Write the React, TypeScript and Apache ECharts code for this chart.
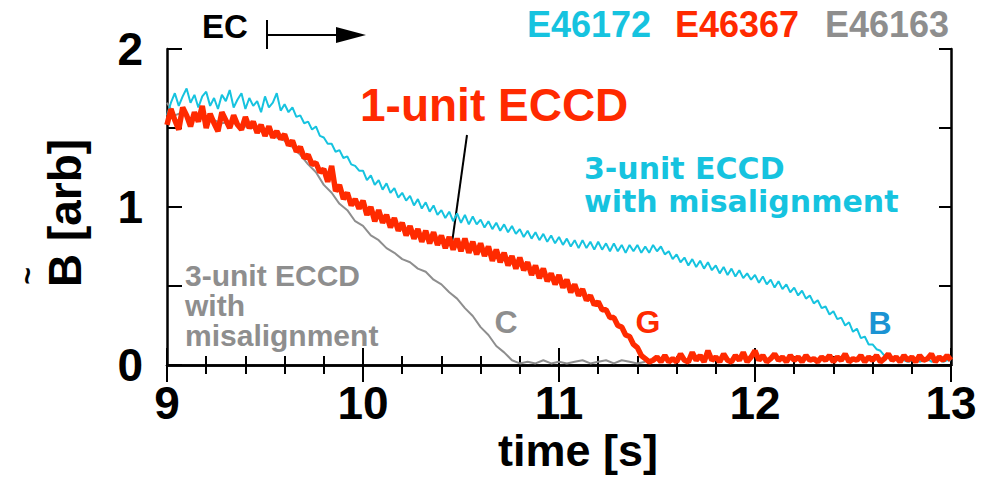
import React, { useEffect, useRef } from "react";
import * as echarts from "echarts";

// time grids
const T_START = 9.0;
const FINE_STEP = 0.02; // cyan and red traces
const COARSE_STEP = 0.04; // gray trace

// E46172 (cyan) - 3-unit ECCD with misalignment, ends at B (every 0.02 s from 9.00 s)
const cyanValues = [
  1.58, 1.66, 1.72, 1.64, 1.70, 1.75, 1.66, 1.71, 1.63, 1.70,
  1.73, 1.64, 1.69, 1.62, 1.71, 1.67, 1.74, 1.63, 1.68, 1.72,
  1.62, 1.69, 1.64, 1.67, 1.60, 1.70, 1.63, 1.66, 1.72, 1.61,
  1.65, 1.60, 1.63, 1.57, 1.58, 1.53, 1.54, 1.49, 1.51, 1.45,
  1.44, 1.40, 1.40, 1.35, 1.36, 1.31, 1.32, 1.27, 1.26, 1.23,
  1.23, 1.17, 1.20, 1.14, 1.17, 1.11, 1.15, 1.09, 1.12, 1.06,
  1.09, 1.04, 1.07, 1.01, 1.05, 0.99, 1.03, 0.97, 1.01, 0.95,
  0.98, 0.93, 0.97, 0.91, 0.96, 0.90, 0.95, 0.89, 0.94, 0.89,
  0.92, 0.87, 0.91, 0.86, 0.90, 0.85, 0.89, 0.84, 0.88, 0.83,
  0.86, 0.81, 0.85, 0.80, 0.84, 0.79, 0.83, 0.78, 0.82, 0.77,
  0.81, 0.76, 0.80, 0.75, 0.79, 0.74, 0.79, 0.74, 0.78, 0.73,
  0.78, 0.73, 0.77, 0.72, 0.77, 0.72, 0.76, 0.71, 0.76, 0.72,
  0.76, 0.71, 0.75, 0.71, 0.76, 0.72, 0.75, 0.70, 0.72, 0.67,
  0.70, 0.65, 0.68, 0.63, 0.67, 0.62, 0.66, 0.61, 0.65, 0.60,
  0.63, 0.58, 0.62, 0.57, 0.61, 0.56, 0.60, 0.55, 0.58, 0.54,
  0.57, 0.52, 0.56, 0.51, 0.54, 0.49, 0.53, 0.48, 0.51, 0.46,
  0.49, 0.44, 0.47, 0.42, 0.44, 0.39, 0.41, 0.36, 0.37, 0.32,
  0.34, 0.29, 0.30, 0.25, 0.27, 0.21, 0.23, 0.17, 0.18, 0.13,
  0.13, 0.10, 0.09, 0.06, 0.05, 0.04, 0.03, 0.04, 0.03, 0.02,
  0.03, 0.04, 0.02, 0.03, 0.04, 0.02, 0.03, 0.04, 0.02, 0.03,
  0.03,
];

// E46367 (red) - 1-unit ECCD, ends at G (every 0.02 s from 9.00 s)
const redValues = [
  1.52, 1.62, 1.55, 1.49, 1.63, 1.58, 1.51, 1.60, 1.54, 1.64,
  1.50, 1.59, 1.53, 1.48, 1.60, 1.55, 1.50, 1.58, 1.52, 1.49,
  1.57, 1.50, 1.54, 1.47, 1.52, 1.45, 1.51, 1.44, 1.48, 1.43,
  1.46, 1.39, 1.42, 1.35, 1.38, 1.31, 1.33, 1.27, 1.28, 1.22,
  1.24, 1.16, 1.26, 1.10, 1.14, 1.05, 1.09, 1.01, 1.05, 0.99,
  1.04, 0.95, 1.00, 0.91, 0.98, 0.90, 0.95, 0.87, 0.93, 0.85,
  0.90, 0.82, 0.88, 0.80, 0.86, 0.78, 0.85, 0.77, 0.84, 0.76,
  0.82, 0.74, 0.81, 0.73, 0.80, 0.72, 0.80, 0.71, 0.78, 0.70,
  0.77, 0.69, 0.75, 0.66, 0.73, 0.65, 0.71, 0.63, 0.69, 0.61,
  0.68, 0.60, 0.65, 0.57, 0.63, 0.55, 0.61, 0.53, 0.58, 0.51,
  0.57, 0.49, 0.54, 0.46, 0.51, 0.44, 0.48, 0.41, 0.44, 0.38,
  0.40, 0.35, 0.35, 0.30, 0.30, 0.25, 0.24, 0.19, 0.18, 0.13,
  0.11, 0.06, 0.04, 0.02, 0.03, 0.05, 0.02, 0.06, 0.02, 0.04,
  0.02, 0.07, 0.03, 0.02, 0.08, 0.03, 0.06, 0.02, 0.09, 0.03,
  0.05, 0.02, 0.07, 0.03, 0.02, 0.06, 0.03, 0.08, 0.02, 0.05,
  0.09, 0.03, 0.06, 0.02, 0.04, 0.07, 0.03, 0.05, 0.02, 0.06,
  0.03, 0.05, 0.02, 0.06, 0.03, 0.04, 0.02, 0.05, 0.03, 0.06,
  0.02, 0.05, 0.03, 0.07, 0.02, 0.04, 0.03, 0.06, 0.02, 0.05,
  0.03, 0.06, 0.02, 0.04, 0.07, 0.03, 0.05, 0.02, 0.06, 0.03,
  0.05, 0.02, 0.06, 0.03, 0.04, 0.07, 0.02, 0.05, 0.03, 0.06,
  0.03,
];

// E46163 (gray) - 3-unit ECCD with misalignment, ends at C (every 0.04 s from 9.00 s)
const grayValues = [
  1.66, 1.58, 1.60, 1.56, 1.57, 1.55, 1.55, 1.53, 1.54, 1.52,
  1.51, 1.50, 1.48, 1.47, 1.44, 1.42, 1.38, 1.33, 1.27, 1.22,
  1.14, 1.09, 1.02, 0.98, 0.91, 0.88, 0.82, 0.79, 0.74, 0.71,
  0.67, 0.65, 0.61, 0.59, 0.54, 0.51, 0.46, 0.42, 0.36, 0.31,
  0.24, 0.19, 0.12, 0.08, 0.03, 0.01, 0.02, 0.01, 0.03, 0.01,
  0.02, 0.01, 0.02, 0.03, 0.01, 0.02, 0.03, 0.01, 0.03, 0.02,
  0.01, 0.02,
];

const xTicks = [9, 10, 11, 12, 13];
const yTicks = [0, 1, 2];
const shotLabels = ["E46172", "E46367", "E46163"];

const CYAN = "#16c3df";
const RED = "#ff2a00";
const GRAY = "#8e8e8e";
const BLUE = "#1b93d3";
const FONT = '"Liberation Sans", Arial, sans-serif';
const WIDE_FONT = '"DejaVu Sans", sans-serif';

const toPairs = (vals: number[], step: number) =>
  vals.map((v, i) => [+(T_START + i * step).toFixed(2), v]);

export default function App() {
  const ref = useRef<HTMLDivElement>(null);
  useEffect(() => {
    if (!ref.current) return;
    const chart = echarts.init(ref.current, undefined, { renderer: "svg" });
    const axisLine = { show: true, lineStyle: { color: "#000", width: 2.5 } };
    const xCommon = {
      type: "value" as const,
      min: xTicks[0],
      max: xTicks[xTicks.length - 1],
      interval: 1,
      axisLine,
      splitLine: { show: false },
      minorSplitLine: { show: false },
      axisTick: { inside: true, length: 17, lineStyle: { color: "#000", width: 2 } },
      minorTick: { show: true, splitNumber: 5, length: 9, lineStyle: { color: "#000", width: 2 } },
    };
    const yCommon = {
      type: "value" as const,
      min: yTicks[0],
      max: yTicks[yTicks.length - 1],
      interval: 0.5,
      axisLine,
      splitLine: { show: false },
    };
    const txt = (
      text: string,
      x: number,
      y: number,
      size: number,
      fill: string,
      align = "left",
      rotation = 0,
      family = FONT,
      lineHeight?: number
    ) => ({
      type: "text",
      x,
      y,
      rotation,
      z: 10,
      style: {
        text,
        fill,
        fontSize: size,
        fontWeight: "bold",
        fontFamily: family,
        align,
        verticalAlign: "middle",
        ...(lineHeight ? { lineHeight } : {}),
      },
    });
    chart.setOption({
      animation: false,
      backgroundColor: "#fff",
      grid: { left: 167, top: 49, width: 784, height: 316 },
      xAxis: [
        {
          ...xCommon,
          position: "bottom",
          axisLabel: { fontSize: 46, fontWeight: "bold", color: "#000", margin: 15, fontFamily: FONT },
        },
        { ...xCommon, position: "top", axisLabel: { show: false } },
      ],
      yAxis: [
        {
          ...yCommon,
          position: "left",
          axisTick: { inside: true, length: 15, lineStyle: { color: "#000", width: 2 } },
          axisLabel: {
            fontSize: 46,
            fontWeight: "bold",
            color: "#000",
            margin: 24,
            fontFamily: FONT,
            formatter: (v: number) => (yTicks.includes(v) ? String(v) : ""),
          },
        },
        {
          ...yCommon,
          position: "right",
          axisTick: { inside: true, length: 12, lineStyle: { color: "#000", width: 2 } },
          axisLabel: { show: false },
        },
      ],
      series: [
        {
          name: shotLabels[2],
          type: "line",
          data: toPairs(grayValues, COARSE_STEP),
          showSymbol: false,
          lineStyle: { color: GRAY, width: 2 },
          z: 2,
        },
        {
          name: shotLabels[0],
          type: "line",
          data: toPairs(cyanValues, FINE_STEP),
          showSymbol: false,
          lineStyle: { color: CYAN, width: 2 },
          z: 3,
        },
        {
          name: shotLabels[1],
          type: "line",
          data: toPairs(redValues, FINE_STEP),
          showSymbol: false,
          lineStyle: { color: RED, width: 5.5 },
          z: 4,
        },
      ],
      graphic: [
        txt("EC", 225, 26, 33, "#000", "center"),
        { type: "line", shape: { x1: 267, y1: 20, x2: 267, y2: 49 }, style: { stroke: "#000", lineWidth: 2 } },
        { type: "line", shape: { x1: 267, y1: 35, x2: 340, y2: 35 }, style: { stroke: "#000", lineWidth: 2 } },
        { type: "polygon", shape: { points: [[336, 27], [366, 35], [336, 43]] }, style: { fill: "#000" } },
        txt(shotLabels[0], 527, 24, 36, CYAN),
        txt(shotLabels[1], 675, 24, 36, RED),
        txt(shotLabels[2], 825, 24, 36, GRAY),
        txt("1-unit ECCD", 360, 105, 46, RED),
        { type: "line", shape: { x1: 467, y1: 135, x2: 452, y2: 243 }, style: { stroke: "#000", lineWidth: 2 } },
        txt("3-unit ECCD\nwith misalignment", 584, 185, 30, CYAN, "left", 0, WIDE_FONT, 33),
        txt("3-unit ECCD\nwith\nmisalignment", 185, 305, 30, GRAY, "left", 0, FONT, 30),
        txt("C", 506, 322, 32, GRAY, "center"),
        txt("G", 648, 322, 32, RED, "center"),
        txt("B", 880, 323, 32, BLUE, "center"),
        txt("time [s]", 578, 450, 45, "#000", "center"),
        txt("B [arb]", 65, 213, 46, "#000", "center", Math.PI / 2),
        txt("~", 27, 276, 30, "#000", "center", Math.PI / 2),
      ],
    });
    return () => chart.dispose();
  }, []);
  return (
    <div
      ref={ref}
      style={{ position: "fixed", left: 0, top: 0, width: 983, height: 477, background: "#fff" }}
    />
  );
}
